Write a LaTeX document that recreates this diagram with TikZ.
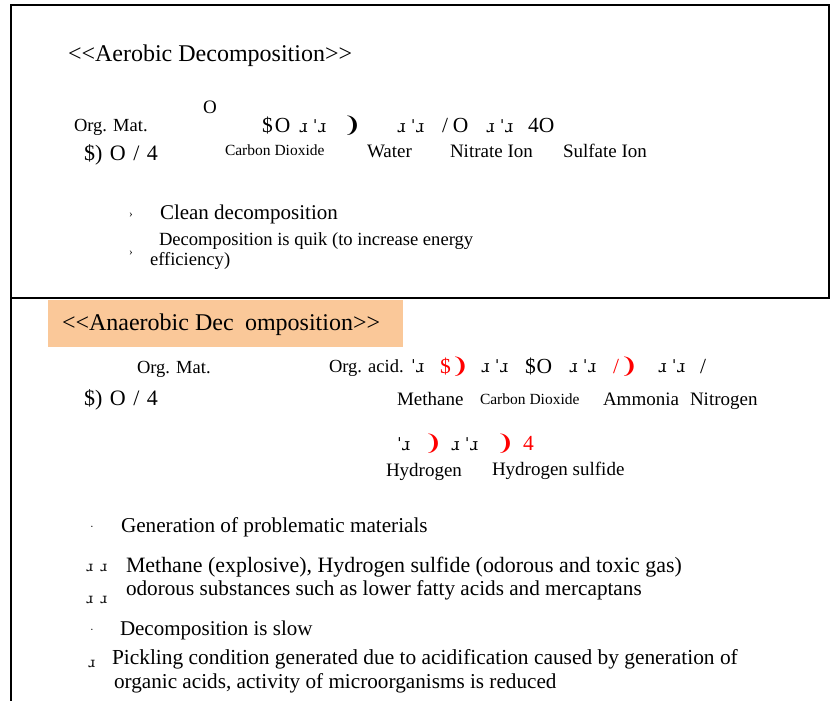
\documentclass[tikz,border=0pt]{standalone}
\usepackage{fontspec}
\setmainfont[Ligatures=TeXOff]{Liberation Serif}
\newfontfamily\ipafont{DejaVu Serif}
\newfontfamily\dingfont{DejaVu Sans}
\definecolor{boxorange}{RGB}{250,200,153}
\newcommand\spreadto[2]{\makebox[#1][s]{#2}}
\newcommand\fs[1]{\fontsize{#1}{#1}\selectfont}
\newcommand\crescent{{\dingfont ❩}}
\tikzset{
  lbl/.style={anchor=base west, inner sep=0pt, outer sep=0pt},
  ttl/.style={lbl, font=\fs{24}},
  body/.style={lbl, font=\fs{21}},
  mid/.style={lbl, font=\fs{19}},
  sml/.style={lbl, font=\fs{15.5}},
  glyph/.style={lbl, font=\fs{21.5}},
  redg/.style={glyph, text=red},
  tick/.style={lbl, font=\ipafont\fs{17}},
  smalltick/.style={lbl, font=\ipafont\fs{14}},
  bul/.style={lbl, font=\fs{11}},
  frameline/.style={line width=2pt},
}
\begin{document}
\begin{tikzpicture}[x=1pt,y=-1pt]
\useasboundingbox (0,0) rectangle (830,701);
% frame
\draw[frameline] (11,701) -- (11,5) -- (829,5) -- (829,298);
\draw[frameline] (11,298) -- (830,298);
\fill[boxorange] (48,300) rectangle (403,347);

% ---------- Aerobic ----------
\node[ttl] (t1) at (68,62) {<<Aerobic Decomposition>>};
\node[lbl, font=\fs{19}] (ox) at (203,113) {O};
\node[lbl, font=\fs{18.5}] (om1) at (74,131) {Org. Mat.};
\node[glyph] (g1) at (262,132) {\$\hspace{2pt}O};
\node[tick] (g2) at (299,132) {ɹ ˈɹ};
\node[glyph] (g3) at (343,132) {\crescent};
\node[tick] (g4) at (397,132) {ɹ ˈɹ};
\node[glyph] (g5) at (442,132) {/\hspace{5pt}O};
\node[tick] (g6) at (486,132) {ɹ ˈɹ};
\node[glyph] (g7) at (528,132) {4O};
\node[lbl, font=\fs{22}] (f1) at (84,160) {\spreadto{74pt}{\$) O / 4}};
\node[sml] (l1) at (225,155) {Carbon Dioxide};
\node[mid] (l2) at (367,157) {Water};
\node[mid] (l3) at (450,157) {Nitrate Ion};
\node[mid] (l4) at (563,157) {Sulfate Ion};
\node[bul] (b1) at (129,217) {›};
\node[body] (c1) at (160,219) {Clean decomposition};
\node[bul] (b2) at (129,255) {›};
\node[lbl, font=\fs{18.6}] (c2) at (159,245) {Decomposition is quik (to increase energy};
\node[lbl, font=\fs{18.6}] (c3) at (150,265) {efficiency)};

% ---------- Anaerobic ----------
\node[ttl] (t2) at (62,330) {<<Anaerobic Dec};
\node[ttl] (t3) at (245,330) {omposition>>};
\node[lbl, font=\fs{18.5}] (om2) at (137,373) {Org. Mat.};
\node[lbl, font=\fs{22}] (f2) at (84,405) {\spreadto{74pt}{\$) O / 4}};
\node[lbl, font=\fs{18.5}] (oa) at (329,372) {Org. acid.};
\node[tick] (h1) at (411,372) {ˈɹ};
\node[redg] (h2) at (440,373) {\$\crescent};
\node[tick] (h3) at (481,372) {ɹ ˈɹ};
\node[glyph] (h4) at (525,373) {\$\hspace{1pt}O};
\node[tick] (h5) at (569,372) {ɹ ˈɹ};
\node[redg] (h6) at (613,373) {/\hspace{1pt}\crescent};
\node[tick] (h7) at (658,372) {ɹ ˈɹ};
\node[glyph] (h8) at (700,373) {/};
\node[mid] (m1) at (397,405) {Methane};
\node[sml] (m2) at (480,404) {Carbon Dioxide};
\node[mid] (m3) at (603,405) {Ammonia};
\node[mid] (m4) at (690,405) {Nitrogen};
\node[tick] (k1) at (397,450) {ˈɹ};
\node[redg] (k2) at (424,450) {\crescent};
\node[tick] (k3) at (451,450) {ɹ ˈɹ};
\node[redg] (k4) at (496,450) {\crescent};
\node[redg] (k5) at (523,450) {4};
\node[mid] (n1) at (386,476) {Hydrogen};
\node[mid] (n2) at (492,475) {Hydrogen sulfide};

\node[bul] (d1) at (90,530) {·};
\node[lbl, font=\fs{21.2}] (e1) at (121,532) {Generation of problematic materials};
\node[smalltick] (d2) at (86,571) {ɹ\hspace{7pt}ɹ};
\node[lbl, font=\fs{21.9}] (e2) at (126,572) {Methane (explosive), Hydrogen sulfide (odorous and toxic gas)};
\node[smalltick] (d3) at (86,603) {ɹ\hspace{7pt}ɹ};
\node[lbl, font=\fs{21.2}] (e3) at (126,595) {odorous substances such as lower fatty acids and mercaptans};
\node[bul] (d4) at (90,633) {·};
\node[body] (e4) at (120,635) {Decomposition is slow};
\node[smalltick] (d5) at (88,667) {ɹ};
\node[lbl, font=\fs{21.4}] (e5) at (112,664) {Pickling condition generated due to acidification caused by generation of};
\node[lbl, font=\fs{21.2}] (e6) at (114,688) {organic acids, activity of microorganisms is reduced};
\end{tikzpicture}
\end{document}
